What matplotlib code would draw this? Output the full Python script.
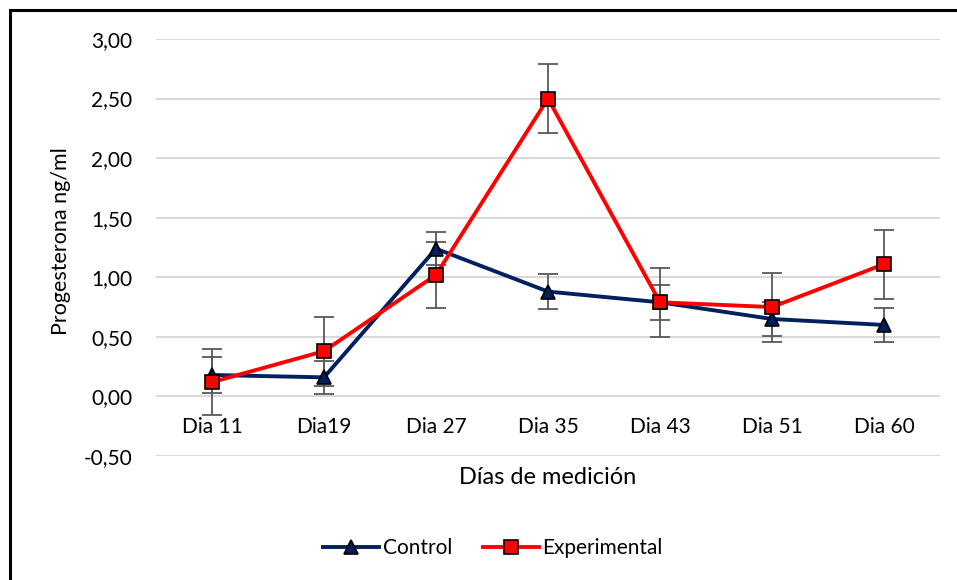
import matplotlib
matplotlib.use("Agg")
import matplotlib.pyplot as plt
from matplotlib.patches import Rectangle
from matplotlib.lines import Line2D

categories = ["Dia 11", "Dia19", "Dia 27", "Dia 35", "Dia 43", "Dia 51", "Dia 60"]
control = [0.18, 0.16, 1.24, 0.88, 0.79, 0.65, 0.60]
control_err = [0.15, 0.14, 0.14, 0.145, 0.145, 0.145, 0.145]
experimental = [0.12, 0.38, 1.02, 2.50, 0.79, 0.75, 1.11]
experimental_err = [0.28, 0.29, 0.28, 0.29, 0.29, 0.29, 0.29]
yticks = [-0.5, 0.0, 0.5, 1.0, 1.5, 2.0, 2.5, 3.0]
ytick_labels = ["-0,50", "0,00", "0,50", "1,00", "1,50", "2,00", "2,50", "3,00"]

plt.rcParams['font.family'] = ['Lato', 'DejaVu Sans']

W, H = 957, 580
fig = plt.figure(figsize=(W/100, H/100), dpi=100)
ax = fig.add_axes([156/W, 1-456/H, (940-156)/W, (456-39)/H])

x = list(range(len(categories)))
navy = "#002060"
red = "#FF0000"
errc = "#595959"

ax.errorbar(x, control, yerr=control_err, fmt='none', ecolor=errc, elinewidth=1.3,
            capsize=7.5, capthick=1.3, zorder=2)
ax.errorbar(x, experimental, yerr=experimental_err, fmt='none', ecolor=errc, elinewidth=1.3,
            capsize=7.5, capthick=1.3, zorder=2)
ax.plot(x, control, color=navy, lw=2.8, marker='^', markersize=10,
        markerfacecolor=navy, markeredgecolor='black', markeredgewidth=1.2, zorder=3,
        label="Control")
ax.plot(x, experimental, color=red, lw=2.8, marker='s', markersize=10,
        markerfacecolor=red, markeredgecolor='black', markeredgewidth=1.2, zorder=4,
        label="Experimental")

ax.set_xlim(-0.5, len(categories)-0.5)
ax.set_ylim(-0.5, 3.0)
ax.set_yticks(yticks)
ax.set_yticklabels(ytick_labels)
ax.set_xticks(x)
ax.set_xticklabels(categories)
ax.yaxis.grid(True, color="#d9d9d9", lw=1.5)
ax.set_axisbelow(True)
for s in ['top', 'right', 'left']:
    ax.spines[s].set_visible(False)
ax.spines['bottom'].set_position(('data', 0))
ax.spines['bottom'].set_color('none')
ax.tick_params(axis='both', length=0, labelsize=15, colors='black')
ax.tick_params(axis='y', pad=17)
ax.tick_params(axis='x', pad=15)

fig.text(61/W, 1-241/H, "Progesterona ng/ml", rotation=90, ha='center', va='center', fontsize=15.5)
fig.text(548/W, 1-477/H, "Días de medición", ha='center', va='center', fontsize=17)

handles = [Line2D([], [], color=navy, lw=2.8, marker='^', markersize=10, markerfacecolor=navy,
                  markeredgecolor='black', markeredgewidth=1.2),
           Line2D([], [], color=red, lw=2.8, marker='s', markersize=10, markerfacecolor=red,
                  markeredgecolor='black', markeredgewidth=1.2)]
fig.legend(handles, ["Control", "Experimental"], loc='center', bbox_to_anchor=(493/W, 1-548/H),
           ncol=2, frameon=False, fontsize=15, handlelength=2.7, handletextpad=0.15,
           columnspacing=1.5)

fig.patches.append(Rectangle((9.5/W, -0.1), 1.2, 1.1 - 10.5/H, transform=fig.transFigure,
                             fill=False, edgecolor='black', lw=2.2, figure=fig))

fig.savefig("out.png", dpi=100)
